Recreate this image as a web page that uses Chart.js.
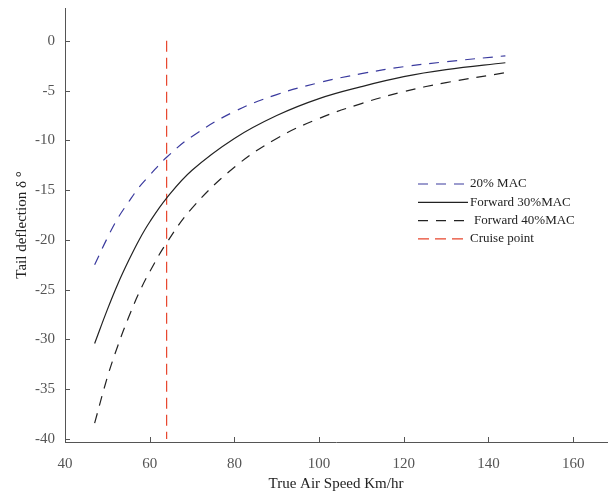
<!DOCTYPE html>
<html>
<head>
<meta charset="utf-8">
<script src="https://cdn.jsdelivr.net/npm/chart.js@4/dist/chart.umd.min.js"></script>
<style>
  html, body { margin: 0; padding: 0; background: #fff; }
  #wrap { width: 608px; height: 498px; }
</style>
</head>
<body>
<div id="wrap"><canvas id="myChart" width="608" height="498"></canvas></div>
<script>
// values
const speeds = [47, 50, 52.5, 55, 57.5, 60, 64, 70, 80, 90, 100, 110, 120, 130, 144];
const mac20 = [-22.5, -19.8, -17.8, -16.2, -14.7, -13.5, -11.7, -9.6, -7.1, -5.4, -4.2, -3.3, -2.6, -2.1, -1.5];
const mac30 = [-30.4, -27.0, -24.4, -22.1, -20.0, -18.2, -15.8, -13.0, -9.8, -7.5, -5.8, -4.6, -3.6, -2.9, -2.2];
const mac40 = [-38.4, -33.8, -30.6, -27.8, -25.3, -23.2, -20.3, -16.8, -12.7, -9.8, -7.8, -6.3, -5.1, -4.2, -3.2];
const cruiseSpeed = 64;
const cruiseRange = [0, -40];
const xTicks = [40, 60, 80, 100, 120, 140, 160];
const yTicks = [0, -5, -10, -15, -20, -25, -30, -35, -40];

const serif = "'Liberation Serif', 'DejaVu Serif', serif";

function pts(ys) {
    return speeds.map((s, i) => ({ x: s, y: ys[i] }));
}

// small inward tick marks like the original plot
const innerTicks = {
    id: 'innerTicks',
    afterDraw(chart) {
        const c = chart.ctx;
        const xs = chart.scales.x, ys = chart.scales.y;
        c.save();
        c.strokeStyle = '#555';
        c.lineWidth = 1;
        c.beginPath();
        yTicks.forEach(v => {
            const p = Math.round(ys.getPixelForValue(v)) + 0.5;
            c.moveTo(xs.left, p);
            c.lineTo(xs.left + 5, p);
        });
        xTicks.forEach(v => {
            const p = Math.round(xs.getPixelForValue(v)) + 0.5;
            c.moveTo(p, ys.bottom);
            c.lineTo(p, ys.bottom - 5);
        });
        c.stroke();
        c.restore();
    }
};

// legend drawn inside the plot, no frame
const floatLegend = {
    id: 'floatLegend',
    afterDraw(chart) {
        const c = chart.ctx;
        const x0 = 418, y0 = 184, step = 18.3;
        c.save();
        c.font = '13px ' + serif;
        c.textBaseline = 'middle';
        chart.data.datasets.forEach((ds, i) => {
            const y = y0 + i * step;
            c.strokeStyle = ds.borderColor;
            c.lineWidth = ds.borderWidth;
            c.setLineDash(ds.borderDash || []);
            c.beginPath();
            c.moveTo(x0, y);
            c.lineTo(x0 + 50, y);
            c.stroke();
            c.fillStyle = '#222';
            c.fillText(ds.label, x0 + 52 + (i === 2 ? 4 : 0), y);
        });
        c.restore();
    }
};

function noPad(s) {
    s.paddingTop = 0;
    s.paddingBottom = 0;
    s.paddingLeft = 0;
    s.paddingRight = 0;
}

const ctx = document.getElementById('myChart').getContext('2d');
const chart = new Chart(ctx, {
    type: 'line',
    data: {
        datasets: [{
            label: '20% MAC',
            data: pts(mac20),
            borderColor: '#3a3a9e',
            borderWidth: 1.2,
            borderDash: [10, 8],
            pointRadius: 0,
            tension: 0.4
        }, {
            label: 'Forward 30%MAC',
            data: pts(mac30),
            borderColor: '#222',
            borderWidth: 1.2,
            pointRadius: 0,
            tension: 0.4
        }, {
            label: 'Forward 40%MAC',
            data: pts(mac40),
            borderColor: '#222',
            borderWidth: 1.2,
            borderDash: [10, 8],
            pointRadius: 0,
            tension: 0.4
        }, {
            label: 'Cruise point',
            data: cruiseRange.map(v => ({ x: cruiseSpeed, y: v })),
            borderColor: '#e8452c',
            borderWidth: 1.2,
            borderDash: [11, 6],
            pointRadius: 0
        }]
    },
    options: {
        responsive: false,
        animation: false,
        layout: { padding: { left: 0, right: 1, top: 8, bottom: 0 } },
        plugins: {
            legend: { display: false },
            tooltip: { enabled: false }
        },
        scales: {
            x: {
                type: 'linear',
                min: 40,
                max: 168,
                afterFit: s => { s.height = 56; noPad(s); },
                afterBuildTicks: s => { s.ticks = xTicks.map(v => ({ value: v })); },
                grid: { display: false, drawTicks: false },
                border: { color: '#555', width: 1 },
                ticks: {
                    color: '#555',
                    padding: 13,
                    maxRotation: 0,
                    font: { family: serif, size: 15 }
                },
                title: {
                    display: true,
                    text: 'True Air Speed Km/hr',
                    color: '#222',
                    padding: { top: 0, bottom: 5 },
                    font: { family: serif, size: 15 }
                }
            },
            y: {
                type: 'linear',
                min: -40.3,
                max: 3.3,
                afterFit: s => { s.width = 65; noPad(s); },
                afterBuildTicks: s => { s.ticks = yTicks.map(v => ({ value: v })); },
                grid: { display: false, drawTicks: false },
                border: { color: '#555', width: 1 },
                ticks: {
                    color: '#555',
                    padding: 10,
                    font: { family: serif, size: 15 }
                },
                title: {
                    display: true,
                    text: 'Tail deflection δ °',
                    color: '#222',
                    padding: { top: 13, bottom: 0 },
                    font: { family: serif, size: 15 }
                }
            }
        }
    },
    plugins: [innerTicks, floatLegend]
});
</script>
</body>
</html>
